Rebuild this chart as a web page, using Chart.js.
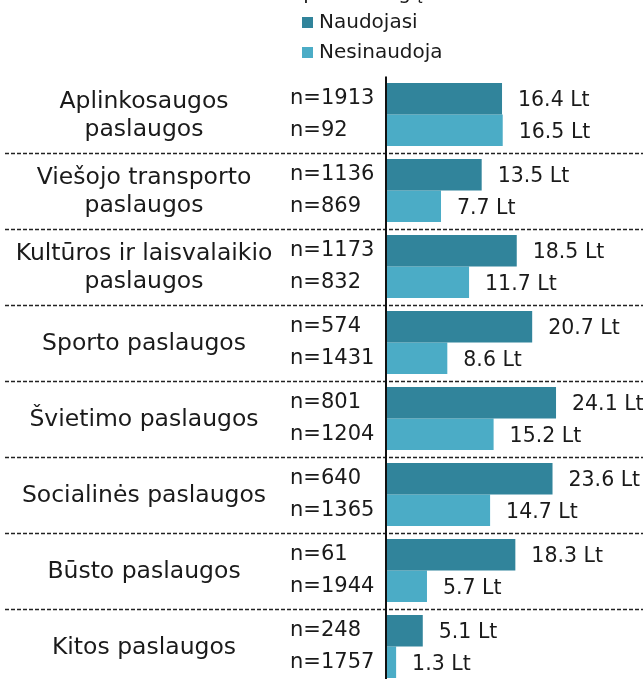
<!DOCTYPE html>
<html>
<head>
<meta charset="utf-8">
<script src="https://cdn.jsdelivr.net/npm/chart.js@4"></script>
<style>
  html, body { margin: 0; padding: 0; background: #fff; overflow: hidden; }
  canvas { display: block; }
</style>
</head>
<body>
<canvas id="chart" width="643" height="700"></canvas>
<script>
// paslaugų kategorijos
const categories = [
    ['Aplinkosaugos', 'paslaugos'],
    ['Viešojo transporto', 'paslaugos'],
    ['Kultūros ir laisvalaikio', 'paslaugos'],
    ['Sporto paslaugos'],
    ['Švietimo paslaugos'],
    ['Socialinės paslaugos'],
    ['Būsto paslaugos'],
    ['Kitos paslaugos']
];
const usersValues = [16.4, 13.5, 18.5, 20.7, 24.1, 23.6, 18.3, 5.1];
const nonUsersValues = [16.5, 7.7, 11.7, 8.6, 15.2, 14.7, 5.7, 1.3];
const usersN = [1913, 1136, 1173, 574, 801, 640, 61, 248];
const nonUsersN = [92, 869, 832, 1431, 1204, 1365, 1944, 1757];
const legendTitle = 'aplinkosaugą';

const FONT = '"DejaVu Sans", Verdana, sans-serif';
const TEXT = '#1a1a1a';

const labelsPlugin = {
    id: 'labelsPlugin',
    afterDatasetsDraw(chart) {
        const ctx = chart.ctx;
        const area = chart.chartArea;
        const yScale = chart.scales.y;
        const xScale = chart.scales.x;
        ctx.save();

        // legenda
        ctx.font = '20px ' + FONT;
        ctx.fillStyle = TEXT;
        ctx.textBaseline = 'alphabetic';
        ctx.textAlign = 'left';
        ctx.fillText(legendTitle, 291, -1);
        chart.data.datasets.forEach((ds, i) => {
            const cy = 22 + i * 30;
            ctx.fillStyle = ds.backgroundColor;
            ctx.fillRect(302, cy - 5, 11, 11);
            ctx.fillStyle = TEXT;
            ctx.textBaseline = 'middle';
            ctx.fillText(ds.label, 319, cy + 1);
        });

        // punktyrinės skiriamosios linijos
        ctx.strokeStyle = '#222';
        ctx.lineWidth = 1.5;
        ctx.setLineDash([4, 2]);
        for (let i = 0; i < categories.length - 1; i++) {
            const y = Math.round((yScale.getPixelForValue(i) + yScale.getPixelForValue(i + 1)) / 2) + 0.5;
            ctx.beginPath();
            ctx.moveTo(5, y);
            ctx.lineTo(643, y);
            ctx.stroke();
        }
        ctx.setLineDash([]);

        // ašies linija
        ctx.strokeStyle = '#111';
        ctx.lineWidth = 2;
        ctx.beginPath();
        ctx.moveTo(area.left - 1, area.top);
        ctx.lineTo(area.left - 1, area.bottom);
        ctx.stroke();

        // kategorijų pavadinimai
        ctx.fillStyle = TEXT;
        ctx.textAlign = 'center';
        ctx.textBaseline = 'middle';
        ctx.font = '23.5px ' + FONT;
        categories.forEach((lines, i) => {
            const cy = yScale.getPixelForValue(i);
            lines.forEach((line, j) => {
                const off = (j - (lines.length - 1) / 2) * 28;
                ctx.fillText(line, 144, cy + off + 1);
            });
        });

        // n reikšmės ir vertės
        const nLists = [usersN, nonUsersN];
        chart.data.datasets.forEach((ds, di) => {
            const meta = chart.getDatasetMeta(di);
            meta.data.forEach((bar, i) => {
                ctx.textAlign = 'left';
                ctx.font = '21px ' + FONT;
                ctx.fillText('n=' + nLists[di][i], 290, bar.y);
                ctx.font = '20.5px ' + FONT;
                ctx.fillText(ds.data[i].toFixed(1) + ' Lt', xScale.getPixelForValue(ds.data[i]) + 16, bar.y + 2);
            });
        });
        ctx.restore();
    }
};

const chart = new Chart(document.getElementById('chart'), {
    type: 'bar',
    data: {
        labels: categories.map(c => c.join(' ')),
        datasets: [
            { label: 'Naudojasi', data: usersValues, backgroundColor: '#31849b' },
            { label: 'Nesinaudoja', data: nonUsersValues, backgroundColor: '#4bacc6' }
        ]
    },
    options: {
        indexAxis: 'y',
        responsive: false,
        animation: false,
        layout: { padding: { left: 387, right: 0, top: 76.5, bottom: 15.5 } },
        datasets: { bar: { categoryPercentage: 0.83, barPercentage: 1.0 } },
        scales: {
            x: { display: false, min: 0, max: 36.5 },
            y: { display: false }
        },
        plugins: {
            legend: { display: false },
            tooltip: { enabled: false }
        }
    },
    plugins: [labelsPlugin]
});
</script>
</body>
</html>
